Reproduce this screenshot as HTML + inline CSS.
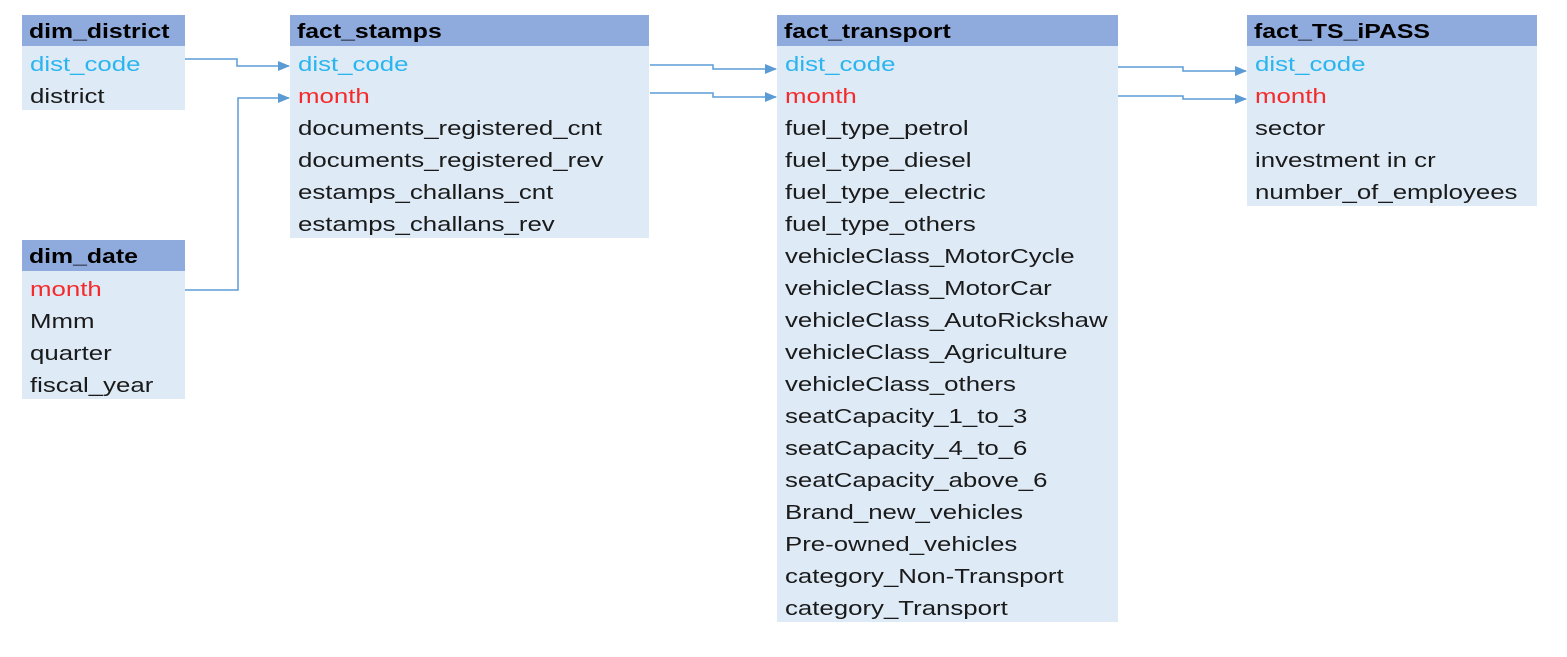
<!DOCTYPE html>
<html><head><style>
body{margin:0;width:1567px;height:657px;background:#fff;position:relative;font-family:"Liberation Sans",sans-serif;overflow:hidden}
.t{position:absolute;background:#deebf7}
.h{height:31px;background:#8faadc;font-weight:bold;font-size:20px;line-height:35px;padding-left:7px;color:#000;white-space:nowrap}
.r{height:32px;font-size:20px;line-height:38px;padding-left:8px;color:#1a1a1a;white-space:nowrap}
.h span,.r span{display:inline-block;transform:scaleX(1.29);transform-origin:left center}
.h span{transform:scaleX(1.24)}
.b{color:#2bb5ef}.m{color:#f52a2a}
svg{position:absolute;left:0;top:0}
</style></head><body>
<div class="t" style="left:22px;top:15px;width:163px"><div class="h"><span>dim_district</span></div><div class="r b"><span>dist_code</span></div><div class="r"><span>district</span></div></div>
<div class="t" style="left:22px;top:240px;width:163px"><div class="h"><span>dim_date</span></div><div class="r m"><span>month</span></div><div class="r"><span>Mmm</span></div><div class="r"><span>quarter</span></div><div class="r"><span>fiscal_year</span></div></div>
<div class="t" style="left:290px;top:15px;width:359px"><div class="h"><span>fact_stamps</span></div><div class="r b"><span>dist_code</span></div><div class="r m"><span>month</span></div><div class="r"><span>documents_registered_cnt</span></div><div class="r"><span>documents_registered_rev</span></div><div class="r"><span>estamps_challans_cnt</span></div><div class="r"><span>estamps_challans_rev</span></div></div>
<div class="t" style="left:777px;top:15px;width:341px"><div class="h"><span>fact_transport</span></div><div class="r b"><span>dist_code</span></div><div class="r m"><span>month</span></div><div class="r"><span>fuel_type_petrol</span></div><div class="r"><span>fuel_type_diesel</span></div><div class="r"><span>fuel_type_electric</span></div><div class="r"><span>fuel_type_others</span></div><div class="r"><span>vehicleClass_MotorCycle</span></div><div class="r"><span>vehicleClass_MotorCar</span></div><div class="r"><span>vehicleClass_AutoRickshaw</span></div><div class="r"><span>vehicleClass_Agriculture</span></div><div class="r"><span>vehicleClass_others</span></div><div class="r"><span>seatCapacity_1_to_3</span></div><div class="r"><span>seatCapacity_4_to_6</span></div><div class="r"><span>seatCapacity_above_6</span></div><div class="r"><span>Brand_new_vehicles</span></div><div class="r"><span>Pre-owned_vehicles</span></div><div class="r"><span>category_Non-Transport</span></div><div class="r"><span>category_Transport</span></div></div>
<div class="t" style="left:1247px;top:15px;width:290px"><div class="h"><span>fact_TS_iPASS</span></div><div class="r b"><span>dist_code</span></div><div class="r m"><span>month</span></div><div class="r"><span>sector</span></div><div class="r"><span>investment in cr</span></div><div class="r"><span>number_of_employees</span></div></div>
<svg width="1567" height="657">
<defs><marker id="a" markerWidth="12" markerHeight="10" refX="11" refY="5" orient="auto" markerUnits="userSpaceOnUse"><path d="M0,0L12,5L0,10z" fill="#5b9bd5"/></marker></defs>
<g fill="none" stroke="#5b9bd5" stroke-width="1.5" marker-end="url(#a)">
<path d="M185,59H237V66H289"/>
<path d="M185,290H238V98H289"/>
<path d="M650,65H713V69H776"/>
<path d="M650,93H713V97H776"/>
<path d="M1118,67H1183V71H1246"/>
<path d="M1118,96H1183V99H1246"/>
</g></svg>
</body></html>
